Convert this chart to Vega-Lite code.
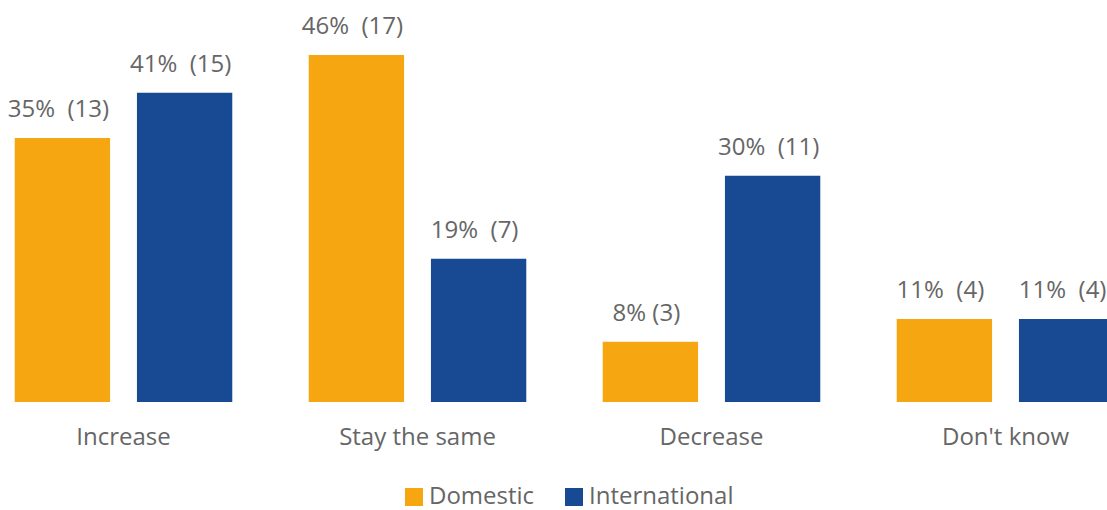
{
  "$schema": "https://vega.github.io/schema/vega-lite/v6.json",
  "width": 1107,
  "height": 402,
  "padding": {"left": 0, "top": 0, "right": 0, "bottom": 108},
  "autosize": {"type": "none"},
  "background": "white",
  "config": {"view": {"stroke": null}, "font": "Open Sans"},
  "data": {"values": [
    {"cat": "Increase", "series": "Domestic", "pct": 35, "label": "35%\u00a0 (13)"},
    {"cat": "Increase", "series": "International", "pct": 41, "label": "41%\u00a0 (15)"},
    {"cat": "Stay the same", "series": "Domestic", "pct": 46, "label": "46%\u00a0 (17)"},
    {"cat": "Stay the same", "series": "International", "pct": 19, "label": "19%\u00a0 (7)"},
    {"cat": "Decrease", "series": "Domestic", "pct": 8, "label": "8% (3)"},
    {"cat": "Decrease", "series": "International", "pct": 30, "label": "30%\u00a0 (11)"},
    {"cat": "Don't know", "series": "Domestic", "pct": 11, "label": "11%\u00a0 (4)"},
    {"cat": "Don't know", "series": "International", "pct": 11, "label": "11%\u00a0 (4)"}
  ]},
  "encoding": {
    "x": {"field": "cat", "type": "nominal", "sort": null,
      "scale": {"range": [-23.5, 1152.5], "paddingInner": 0.26, "paddingOuter": 0.13},
      "axis": {"title": null, "domain": false, "ticks": false, "labelAngle": 0,
        "labelFontSize": 24, "labelColor": "#666666", "labelPadding": 23, "labelFont": "Open Sans"}},
    "xOffset": {"field": "series", "type": "nominal", "sort": ["Domestic", "International"],
      "scale": {"paddingInner": 0.22}},
    "y": {"field": "pct", "type": "quantitative",
      "scale": {"domain": [0, 53.3], "nice": false, "zero": true},
      "axis": null}
  },
  "layer": [
    {"mark": {"type": "bar"},
     "encoding": {"color": {"field": "series", "type": "nominal",
        "scale": {"domain": ["Domestic", "International"], "range": ["#F6A611", "#174A92"]},
        "legend": {"title": null, "orient": "none", "legendX": 402, "legendY": 485,
          "direction": "horizontal", "symbolType": "square", "symbolSize": 324,
          "symbolStrokeWidth": 0, "labelFontSize": 24, "labelColor": "#666666",
          "labelFont": "Open Sans", "columnPadding": 27, "labelOffset": 3}}}},
    {"mark": {"type": "text", "baseline": "bottom", "dy": -16, "dx": -4, "fontSize": 24, "color": "#666666", "font": "Open Sans"},
     "encoding": {"text": {"field": "label"}}}
  ]
}
